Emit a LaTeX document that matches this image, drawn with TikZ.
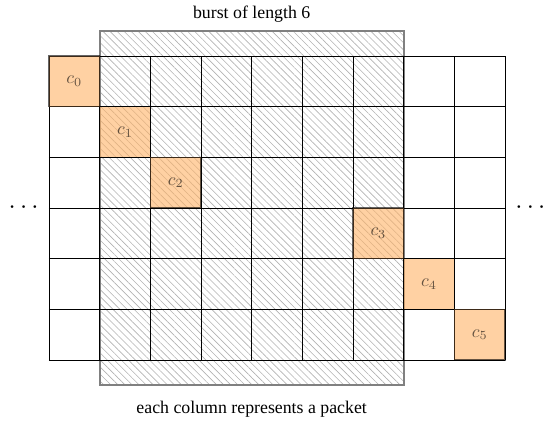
\documentclass[tikz,border=0pt]{standalone}
\usepackage{fontspec}
\setmainfont{Liberation Serif}
\usetikzlibrary{patterns,patterns.meta}
\begin{document}
\begin{tikzpicture}[x=1cm,y=1cm,
  codecell/.style={draw=black, fill=orange!60, opacity=0.6, thick,
    minimum size=1cm, inner sep=0pt, outer sep=0pt},
  burstbox/.style={pattern={Lines[angle=-45,distance=2.8pt,line width=0.35pt]}, pattern color=gray!60, draw=gray, line width=1.2pt}
]
\useasboundingbox (-0.967,-1.224) rectangle (9.749,7.105);
\draw[burstbox] (1,-0.5) rectangle (7,6.5);
\draw[black, line width=0.5pt] (0,0) grid (9,6);
\node[codecell] (c0) at (0.5,5.5) {$c_0$};
\node[codecell] (c1) at (1.5,4.5) {$c_1$};
\node[codecell] (c2) at (2.5,3.5) {$c_2$};
\node[codecell] (c3) at (6.5,2.5) {$c_3$};
\node[codecell] (c4) at (7.5,1.5) {$c_4$};
\node[codecell] (c5) at (8.5,0.5) {$c_5$};
\node (title) at (4,6.83) {burst of length 6};
\node (caption) at (4,-0.97) {each column represents a packet};
\node (ldots) at (-0.5,3) {\Large$\cdots$};
\node (rdots) at (9.5,3) {\Large$\cdots$};
\end{tikzpicture}
\end{document}
